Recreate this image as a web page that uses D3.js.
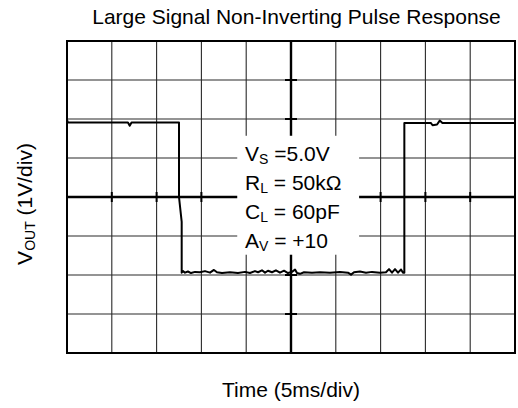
<!DOCTYPE html>
<html>
<head>
<meta charset="utf-8">
<script src="https://cdn.jsdelivr.net/npm/d3@7"></script>
<style>
  html, body { margin: 0; padding: 0; background: #fff; }
  svg { display: block; font-family: "Liberation Sans", Arial, sans-serif; }
</style>
</head>
<body>
<svg id="chart" width="518" height="408"></svg>
<script>
// ---- data ----
const title = "Large Signal Non-Inverting Pulse Response";
const xLabel = "Time (5ms/div)";
const yLabelMain = "V";
const yLabelSub = "OUT";
const yLabelRest = " (1V/div)";

// grid divisions (ms and volts)
const timeTicks = [0, 5, 10, 15, 20, 25, 30, 35, 40, 45, 50];
const voltTicks = [-4, -3, -2, -1, 0, 1, 2, 3, 4];

// trace (ms, V)
const traceTime = [0, 0.1, 6.8, 7.0, 7.2, 12.5, 12.5, 12.8, 12.8,
  12.95, 13.17, 13.5, 13.84, 14.29, 14.84, 15.4, 15.96, 16.4, 16.74, 17.3, 18.19, 19.08,
  19.87, 20.42, 20.98, 21.32, 21.76, 22.1, 22.43, 22.88, 23.32, 23.77, 24.22, 24.66,
  25.11, 25.45, 25.67, 26.0, 26.45, 27.34, 28.24, 29.35, 30.47, 31.36, 31.7, 32.03,
  32.7, 33.37, 34.04, 34.93, 35.6, 35.94, 36.27, 36.61, 36.94, 37.28, 37.5, 37.65,
  37.65, 40.6, 40.8, 41.3, 41.6, 41.9, 50];
const traceVolt = [1.98, 1.91, 1.91, 1.83, 1.91, 1.91, 0.0, -0.64, -1.94,
  -1.90, -1.94, -1.91, -1.95, -1.92, -1.93, -1.90, -1.94, -1.87, -1.93, -1.95, -1.93, -1.95,
  -1.92, -1.95, -1.90, -1.93, -1.88, -1.94, -1.89, -1.93, -1.88, -1.94, -1.89, -1.95,
  -1.92, -1.86, -1.95, -1.97, -1.93, -1.94, -1.93, -1.94, -1.92, -1.94, -1.99, -1.93,
  -1.91, -1.94, -1.92, -1.94, -1.93, -1.85, -1.94, -1.85, -1.94, -1.86, -1.94, -1.94,
  1.90, 1.90, 1.84, 1.86, 1.96, 1.90, 1.90];

// annotation
const annoMain = ["V", "R", "C", "A"];
const annoSub = ["S", "L", "L", "V"];
const annoRest = [" =5.0V", " = 50k\u03A9", " = 60pF", " = +10"];
// annotation box extent in data units
const boxTime = [19.0, 32.6];
const boxVolt = [-1.48, 1.57];

// ---- drawing ----
const svg = d3.select("#chart");
const x = d3.scaleLinear().domain([0, 50]).range([67, 515]);
const y = d3.scaleLinear().domain([-4, 4]).range([353, 41]);
const ink = "#000";
const gridCol = "#2a2a2a";

const g = svg.append("g");

// grid lines
g.selectAll("line.vg").data(timeTicks.slice(1, -1)).join("line")
  .attr("x1", d => x(d)).attr("x2", d => x(d))
  .attr("y1", y(4)).attr("y2", y(-4))
  .attr("stroke", gridCol).attr("stroke-width", 1.1);
g.selectAll("line.hg").data(voltTicks.slice(1, -1)).join("line")
  .attr("x1", x(0)).attr("x2", x(50))
  .attr("y1", d => y(d)).attr("y2", d => y(d))
  .attr("stroke", gridCol).attr("stroke-width", 1.1);

// center axes
g.append("line").attr("x1", x(0)).attr("x2", x(50)).attr("y1", y(0)).attr("y2", y(0))
  .attr("stroke", ink).attr("stroke-width", 2.4);
g.append("line").attr("x1", x(25)).attr("x2", x(25)).attr("y1", y(4)).attr("y2", y(-4))
  .attr("stroke", ink).attr("stroke-width", 2.4);

// ticks on center axes
g.selectAll("line.xt").data(timeTicks).join("line")
  .attr("x1", d => x(d)).attr("x2", d => x(d))
  .attr("y1", y(0) - 5).attr("y2", y(0) + 5)
  .attr("stroke", ink).attr("stroke-width", 2);
g.selectAll("line.yt").data(voltTicks).join("line")
  .attr("x1", x(25) - 6).attr("x2", x(25) + 6)
  .attr("y1", d => y(d)).attr("y2", d => y(d))
  .attr("stroke", ink).attr("stroke-width", 2);

// annotation box (white)
g.append("rect")
  .attr("x", x(boxTime[0])).attr("y", y(boxVolt[1]))
  .attr("width", x(boxTime[1]) - x(boxTime[0]))
  .attr("height", y(boxVolt[0]) - y(boxVolt[1]))
  .attr("fill", "#fff");

// trace
const pts = traceTime.map((t, i) => [t, traceVolt[i]]);
g.append("path").datum(pts)
  .attr("d", d3.line().x(d => x(d[0])).y(d => y(d[1])))
  .attr("fill", "none").attr("stroke", ink).attr("stroke-width", 2)
  .attr("stroke-linejoin", "round");

// frame
g.append("rect").attr("x", x(0)).attr("y", y(4))
  .attr("width", x(50) - x(0)).attr("height", y(-4) - y(4))
  .attr("fill", "none").attr("stroke", ink).attr("stroke-width", 2);

// annotation text
const annoY0 = 161, annoStep = 29;
annoMain.forEach((m, i) => {
  const t = svg.append("text").attr("x", 245).attr("y", annoY0 + i * annoStep)
    .attr("font-size", 21).attr("fill", ink);
  t.append("tspan").text(m);
  t.append("tspan").attr("font-size", 14).attr("dy", 3).text(annoSub[i]);
  t.append("tspan").attr("dy", -3).text(annoRest[i]);
});

// title
svg.append("text").attr("x", 296.5).attr("y", 24).attr("text-anchor", "middle")
  .attr("font-size", 21).attr("fill", ink).text(title);

// x label
svg.append("text").attr("x", 291).attr("y", 396.5).attr("text-anchor", "middle")
  .attr("font-size", 21).attr("fill", ink).text(xLabel);

// y label
const yl = svg.append("text").attr("transform", "translate(32,204) rotate(-90)")
  .attr("text-anchor", "middle").attr("font-size", 21).attr("fill", ink);
yl.append("tspan").text(yLabelMain);
yl.append("tspan").attr("font-size", 14).attr("dy", 3).text(yLabelSub);
yl.append("tspan").attr("dy", -3).text(yLabelRest);
</script>
</body>
</html>
